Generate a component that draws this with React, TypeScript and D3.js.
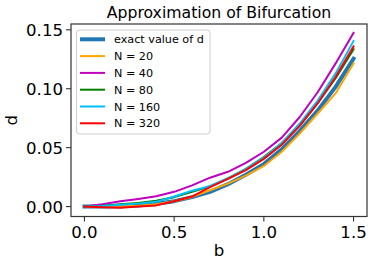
import React from "react";
import * as d3 from "d3";

// Approximation of bifurcation: exact d vs. numerical estimates for several N.
const bValues = [0, 0.1, 0.2, 0.3, 0.4, 0.5, 0.6, 0.7, 0.8, 0.9, 1.0, 1.1, 1.2, 1.3, 1.4, 1.5];

const exactD = [0, 0.00004, 0.0003, 0.001, 0.0024, 0.0046, 0.008, 0.0125, 0.019, 0.027, 0.036, 0.0485, 0.064, 0.0814, 0.1016, 0.1255];
const n20 = [0, 0, 0.0002, 0.0008, 0.002, 0.0045, 0.0082, 0.0138, 0.0195, 0.0262, 0.0345, 0.0465, 0.062, 0.079, 0.096, 0.1215];
const n40 = [0, 0.002, 0.0045, 0.0065, 0.0088, 0.0125, 0.018, 0.0245, 0.0295, 0.037, 0.0465, 0.0585, 0.076, 0.097, 0.1215, 0.1475];
const n80 = [0, 0.0008, 0.002, 0.003, 0.005, 0.008, 0.0125, 0.017, 0.024, 0.032, 0.042, 0.054, 0.069, 0.088, 0.109, 0.1335];
const n160 = [0, 0.0005, 0.0015, 0.0025, 0.004, 0.0085, 0.0135, 0.0175, 0.024, 0.0318, 0.0415, 0.054, 0.0705, 0.09, 0.113, 0.1405];
const n320 = [0, -0.0005, -0.001, 0, 0.001, 0.0045, 0.0085, 0.0165, 0.0235, 0.031, 0.0405, 0.0525, 0.0685, 0.0875, 0.11, 0.136];

const seriesNames = ["exact value of d", "N = 20", "N = 40", "N = 80", "N = 160", "N = 320"];
const seriesValues = [exactD, n20, n40, n80, n160, n320];
const seriesColors = ["#1f77b4", "#ffa500", "#bf00bf", "#008000", "#00bfff", "#ff0000"];
const seriesWidths = [4, 2, 2, 2, 2, 2];

const xTicks = [0, 0.5, 1.0, 1.5];
const yTicks = [0, 0.05, 0.1, 0.15];

const W = 374;
const H = 265;
const plot = { left: 71, right: 367, top: 24, bottom: 216.5 };
const font = "'DejaVu Sans', Verdana, sans-serif";

export default function App() {
  const xPad = (d3.max(bValues)! - d3.min(bValues)!) * 0.05;
  const x = d3
    .scaleLinear()
    .domain([d3.min(bValues)! - xPad, d3.max(bValues)! + xPad])
    .range([plot.left, plot.right]);

  const all = seriesValues.flat();
  const lo = d3.min(all)!;
  const hi = d3.max(all)!;
  const yPad = (hi - lo) * 0.05;
  const y = d3
    .scaleLinear()
    .domain([lo - yPad, hi + yPad])
    .range([plot.bottom, plot.top]);

  const line = d3
    .line<number>()
    .x((_, i) => x(bValues[i]))
    .y((d) => y(d));

  const legendTop = 39.3;
  const legendStep = 16.8;

  return (
    <svg
      width={W}
      height={H}
      style={{ position: "absolute", left: 0, top: 0, background: "#fff" }}
      fontFamily={font}
    >
      <text x={(plot.left + plot.right) / 2} y={18} textAnchor="middle" fontSize={15.7} fill="#000">
        Approximation of Bifurcation
      </text>

      {seriesValues.map((vals, i) => (
        <path
          key={seriesNames[i]}
          d={line(vals) ?? ""}
          fill="none"
          stroke={seriesColors[i]}
          strokeWidth={seriesWidths[i]}
          strokeLinejoin="round"
          strokeLinecap="square"
        />
      ))}

      <rect
        x={plot.left}
        y={plot.top}
        width={plot.right - plot.left}
        height={plot.bottom - plot.top}
        fill="none"
        stroke="#333"
        strokeWidth={1.2}
      />

      {xTicks.map((t) => (
        <g key={t} transform={`translate(${x(t)},${plot.bottom})`}>
          <line y2={5} stroke="#333" strokeWidth={1.1} />
          <text y={21} textAnchor="middle" fontSize={16.6} fill="#000">
            {t.toFixed(1)}
          </text>
        </g>
      ))}
      {yTicks.map((t) => (
        <g key={t} transform={`translate(${plot.left},${y(t)})`}>
          <line x2={-5} stroke="#333" strokeWidth={1.1} />
          <text x={-8} dy="0.36em" textAnchor="end" fontSize={16.6} fill="#000">
            {t.toFixed(2)}
          </text>
        </g>
      ))}

      <text x={(plot.left + plot.right) / 2} y={256} textAnchor="middle" fontSize={16.6} fill="#000">
        b
      </text>
      <text
        transform={`translate(17,${(plot.top + plot.bottom) / 2}) rotate(-90)`}
        textAnchor="middle"
        fontSize={16.6}
        fill="#000"
      >
        d
      </text>

      <rect x={76.5} y={30} width={133.5} height={104} rx={3} fill="#fff" fillOpacity={0.8} stroke="#ccc" />
      {seriesNames.map((name, i) => {
        const cy = legendTop + i * legendStep;
        return (
          <g key={name}>
            <line x1={80} x2={105} y1={cy} y2={cy} stroke={seriesColors[i]} strokeWidth={seriesWidths[i]} />
            <text x={114} y={cy + 4} fontSize={11.2} fill="#000">
              {name}
            </text>
          </g>
        );
      })}
    </svg>
  );
}
